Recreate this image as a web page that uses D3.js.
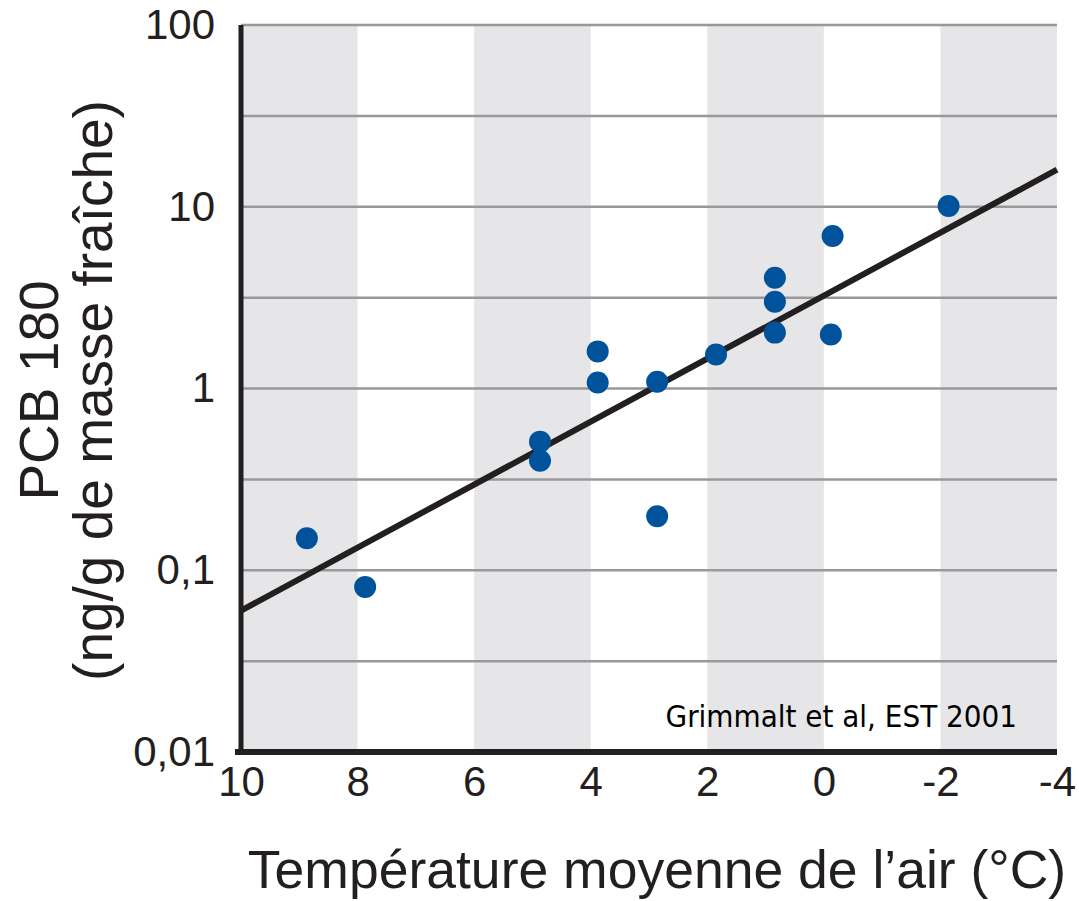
<!DOCTYPE html>
<html>
<head>
<meta charset="utf-8">
<style>
  body { margin: 0; background: #fff; }
  svg { display: block; }
  text { font-family: "Liberation Sans", Arial, sans-serif; fill: #231f20; }
</style>
</head>
<body>
<svg width="1079" height="901"></svg>
<script src="https://d3js.org/d3.v7.min.js"></script>
<script>
// data (PCB 180 vs mean air temperature)
var temps  = [8.87, 7.87, 4.87, 4.87, 3.88, 3.88, 2.86, 2.86, 1.85, 0.84, 0.84, 0.84, -0.15, -0.12, -2.14];
var pcb    = [0.15, 0.081, 0.51, 0.40, 1.6, 1.08, 1.09, 0.198, 1.54, 4.07, 3.0, 2.03, 6.9, 1.98, 10.1];
// regression line end points
var fitTemps  = [10, -4];
var fitValues = [0.06, 16];
// ticks and bands
var xTicks = [10, 8, 6, 4, 2, 0, -2, -4];
var yTicks = [0.01, 0.1, 1, 10, 100];
var yTickLabels = ["0,01", "0,1", "1", "10", "100"];
var gridValues = [0.0316, 0.1, 0.316, 1, 3.16, 10, 31.6, 100];
var bands = [[10, 8], [6, 4], [2, 0], [-2, -4]];

var svg = d3.select("svg"),
    margin = {top: 25, right: 22, bottom: 149, left: 241},
    width = +svg.attr("width") - margin.left - margin.right,
    height = +svg.attr("height") - margin.top - margin.bottom;

var x = d3.scaleLinear().domain([10, -4]).range([0, width]);
var y = d3.scaleLog().domain([0.01, 100]).range([height, 0]);

var g = svg.append("g").attr("transform", "translate(" + margin.left + "," + margin.top + ")");

//grey vertical bands
g.selectAll("rect.band")
  .data(bands)
  .enter().append("rect")
    .attr("class", "band")
    .attr("x", function(d) { return x(d[0]); })
    .attr("width", function(d) { return x(d[1]) - x(d[0]); })
    .attr("y", 0)
    .attr("height", height)
    .attr("fill", "#e6e6e8");

//horizontal grid lines
g.selectAll("line.grid")
  .data(gridValues)
  .enter().append("line")
    .attr("class", "grid")
    .attr("x1", 0)
    .attr("x2", width)
    .attr("y1", function(d) { return y(d); })
    .attr("y2", function(d) { return y(d); })
    .attr("stroke", "#98999b")
    .attr("stroke-width", 2.5);

//regression line
var line = d3.line()
    .x(function(d) { return x(d[0]); })
    .y(function(d) { return y(d[1]); });
g.append("path")
  .datum(d3.zip(fitTemps, fitValues))
    .attr("d", line)
    .attr("fill", "none")
    .attr("stroke", "#231f20")
    .attr("stroke-width", 6);

//data points
g.selectAll("circle")
  .data(d3.zip(temps, pcb))
  .enter().append("circle")
    .attr("cx", function(d) { return x(d[0]); })
    .attr("cy", function(d) { return y(d[1]); })
    .attr("r", 11)
    .attr("fill", "#00529b");

//axes
var xAxis = g.append("g")
    .attr("transform", "translate(0," + height + ")")
    .call(d3.axisBottom(x).tickValues(xTicks).tickSize(0).tickPadding(14)
      .tickFormat(function(d) { return d; }));
xAxis.select(".domain").remove();
xAxis.selectAll("text")
    .attr("font-size", 42)
    .attr("font-family", "Liberation Sans, Arial, sans-serif")
    .attr("fill", "#231f20");

var yAxis = g.append("g")
    .call(d3.axisLeft(y).tickValues(yTicks).tickSize(0).tickPadding(26)
      .tickFormat(function(d, i) { return yTickLabels[i]; }));
yAxis.select(".domain").remove();
yAxis.selectAll("text")
    .attr("font-size", 42)
    .attr("font-family", "Liberation Sans, Arial, sans-serif")
    .attr("fill", "#231f20");

//thick axis lines
g.append("line")
    .attr("x1", -6).attr("x2", width)
    .attr("y1", height).attr("y2", height)
    .attr("stroke", "#231f20").attr("stroke-width", 6);
g.append("line")
    .attr("x1", 0).attr("x2", 0)
    .attr("y1", 0).attr("y2", height + 3)
    .attr("stroke", "#231f20").attr("stroke-width", 5);

//source note
g.append("text")
    .attr("x", width - 40)
    .attr("y", height - 25)
    .attr("text-anchor", "end")
    .attr("font-size", 31)
    .style("font-family", "'DejaVu Sans Condensed', 'DejaVu Sans', sans-serif")
    .style("fill", "#000")
    .text("Grimmalt et al, EST 2001");

//axis titles
svg.append("text")
    .attr("x", 657)
    .attr("y", 888)
    .attr("text-anchor", "middle")
    .attr("font-size", 53.5)
    .text("Température moyenne de l’air (°C)");

var yTitle = svg.append("text")
    .attr("transform", "translate(58," + (margin.top + height / 2 + 2) + ") rotate(-90)")
    .attr("text-anchor", "middle")
    .attr("font-size", 55);
yTitle.append("tspan").attr("x", 0).attr("dy", 0).text("PCB 180");
yTitle.append("tspan").attr("x", 0).attr("dy", 54).text("(ng/g de masse fraîche)");
</script>
</body>
</html>
